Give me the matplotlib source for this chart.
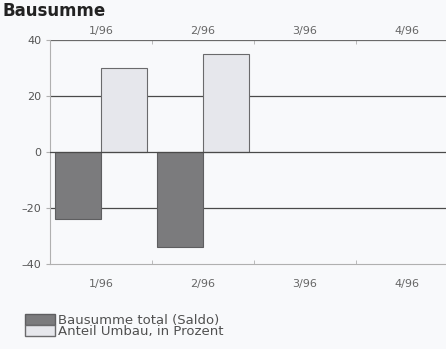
import matplotlib
matplotlib.use("Agg")
import matplotlib.pyplot as plt
import numpy as np
from matplotlib.patches import Patch

categories = ["1/96", "2/96", "3/96", "4/96"]
bausumme = [-24, -34, np.nan, np.nan]
umbau = [30, 35, np.nan, np.nan]
yticks = [40, 20, 0, -20, -40]

plt.rcParams['font.family'] = ['DejaVu Sans']
bg = "#f8f9fb"
fig = plt.figure(figsize=(4.46, 3.49), dpi=100, facecolor=bg)
ax = fig.add_axes([0.112, 0.2436, 0.915, 0.6418], facecolor=bg)

x = np.arange(len(categories))
w = 0.45
ax.bar(x - w/2, bausumme, width=w, color="#7b7b7d", edgecolor="#5e5e60", linewidth=0.8, zorder=3)
ax.bar(x + w/2, umbau, width=w, color="#e6e7ec", edgecolor="#6a6a6c", linewidth=0.8, zorder=3)

ax.set_xlim(-0.5, 3.5)
ax.set_ylim(-40, 40)
for v in [20, 0, -20]:
    ax.axhline(v, color="#4a4a4a", linewidth=0.9, zorder=4 if v == 0 else 2)
ax.axhline(40, color="#6a6a6a", linewidth=0.9)
for s in ["top", "right"]:
    ax.spines[s].set_visible(False)
ax.spines["left"].set_color("#b0b0b0")
ax.spines["bottom"].set_color("#b0b0b0")

ax.set_yticks(yticks)
ax.set_yticklabels([str(t).replace("-", "\u2013") for t in yticks], fontsize=8, color="#555555")
ax.tick_params(axis='y', length=3, color="#b0b0b0", pad=3)
ax.set_xticks(x)
ax.set_xticklabels(categories, fontsize=8, color="#666666")
ax.tick_params(axis='x', length=0, pad=11)
ax.set_xticks([0.5, 1.5, 2.5], minor=True)
ax.tick_params(axis='x', which='minor', length=3, color="#b0b0b0", top=True, direction='in')

sec = ax.secondary_xaxis('top')
sec.set_xticks(x)
sec.set_xticklabels(categories, fontsize=8, color="#666666")
sec.tick_params(axis='x', length=0, pad=3)
sec.spines['top'].set_visible(False)

fig.text(0.005, 1 - 2/349, "Bausumme", fontsize=12, fontweight='bold', color="#222222", va='top')

handles = [Patch(facecolor="#7b7b7d", edgecolor="#5e5e60"), Patch(facecolor="#e6e7ec", edgecolor="#6a6a6c")]
fig.legend(handles, ["Bausumme total (Saldo)", "Anteil Umbau, in Prozent"], loc='upper left',
           bbox_to_anchor=(18/446, 1 - 307/349), frameon=False, fontsize=9.5, handlelength=2.3,
           handleheight=0.9, handletextpad=0.2, labelspacing=-0.1, borderpad=0, labelcolor="#505050")

fig.savefig("out.png", dpi=100, facecolor=bg)
